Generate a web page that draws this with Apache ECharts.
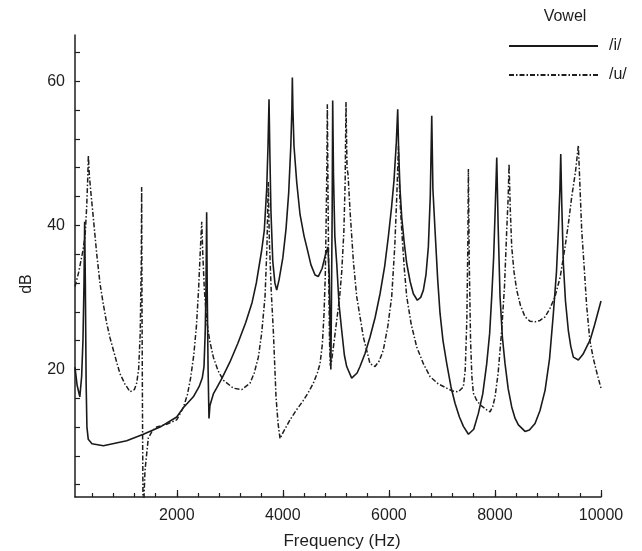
<!DOCTYPE html>
<html><head><meta charset="utf-8">
<script src="https://cdn.jsdelivr.net/npm/echarts@6/dist/echarts.min.js"></script>
<style>html,body{margin:0;padding:0;background:#fff}#c{width:642px;height:551px}</style>
</head><body><div id="c"></div>
<script>
// /i/ vowel (solid)
const freqI = [80,120,171,205,230,250,262,275,290,305,330,400,615,1055,1369,1683,1998,2123,2200,2312,2420,2480,2513,2535,2550,2563,2575,2590,2607,2625,2689,2750,2853,3000,3150,3300,3420,3500,3600,3650,3695,3720,3739,3755,3775,3810,3850,3884,3930,4000,4060,4110,4150,4170,4179,4190,4210,4261,4324,4400,4450,4530,4607,4670,4740,4800,4850,4875,4895,4905,4915,4930,4940,4955,4980,5016,5060,5110,5160,5204,5298,5400,5455,5550,5644,5740,5833,5920,5989,6050,6096,6140,6166,6185,6210,6242,6290,6336,6400,6461,6536,6600,6650,6700,6744,6780,6808,6830,6870,6920,6964,7020,7091,7170,7247,7330,7405,7500,7600,7687,7770,7845,7900,7939,7975,8002,8034,8060,8096,8140,8190,8250,8316,8380,8442,8567,8650,8756,8850,8945,9030,9102,9160,9196,9225,9241,9260,9290,9330,9384,9430,9479,9573,9660,9762,9800,9880,10000];
const dbI = [20.3,17.8,16.2,19,24,32,40.5,32,18,12,10.3,9.7,9.4,10.1,11.0,12.0,13.4,14.7,15.3,16.2,17.6,18.8,20.4,25,31,41.8,30,20,13.2,15.0,16.6,17.4,18.8,21,23.6,26.5,29.3,32,36.5,39.3,45,51,57.5,50,42,35,32,31.0,32.5,35.5,39.5,44.5,51,56,60.5,56,51,46,41.5,38.5,37,34.5,33.1,32.9,34,35.8,37,33,24,20,28,42,57.3,47,38.5,34.7,29,25.4,22,20.4,18.8,19.5,20.4,22.2,24.5,27.2,30.5,34.3,38.4,42.5,46.2,51.5,56.1,50,45,41.1,37.5,34.7,32.2,30.5,29.6,30,31.0,33.2,37.0,44,55.2,45,39.3,32.5,27.8,24,20.8,17.6,15.3,13.4,12.1,11.0,11.7,13.9,16.6,20.8,25,30.1,35.5,41.6,49.4,40,30.1,24.5,20.8,17.3,14.8,13.2,12.3,11.4,11.6,12.5,14.3,17.1,21.5,27.8,33.5,39.3,45,49.9,43,34.7,29.5,25.4,23.2,21.7,21.3,22.1,23.6,24.2,26.2,29.5];
// /u/ vowel (dash-dot)
const freqU = [80,150,230,270,300,320,332,350,380,426,490,552,615,678,740,803,866,929,1020,1117,1148,1200,1243,1280,1310,1330,1337,1343,1352,1362,1370,1385,1400,1463,1540,1620,1808,1998,2123,2200,2260,2320,2370,2410,2440,2470,2490,2520,2563,2620,2689,2780,2877,3066,3224,3381,3460,3538,3600,3664,3700,3725,3745,3780,3820,3850,3871,3910,3947,4000,4135,4250,4386,4480,4575,4650,4701,4745,4777,4800,4814,4830,4839,4850,4865,4880,4895,4920,4960,5016,5070,5110,5150,5175,5191,5210,5230,5267,5330,5393,5518,5644,5738,5820,5895,5980,6053,6110,6148,6180,6205,6242,6290,6336,6420,6525,6650,6776,6930,7091,7200,7311,7405,7440,7470,7490,7499,7515,7540,7565,7593,7650,7719,7845,7907,7960,8002,8060,8127,8180,8222,8250,8266,8290,8316,8360,8411,8480,8567,8660,8756,8850,8945,9040,9133,9230,9322,9390,9447,9520,9573,9600,9636,9680,9730,9790,9856,9930,10000];
const dbU = [31.5,33.5,36.5,38.5,42.5,46.5,49.7,47,44.5,41,36,31.9,29,26.4,24.4,22.7,21,19.4,18,16.9,16.7,17.2,18.1,20,25,35,45.3,30,15,2,0,3,6,10.5,11.5,12.0,12.4,13.0,14.7,16.5,18.8,22,26,31,36,40.5,36,31,26.8,24,21.7,19.8,18.5,17.4,17.2,18.1,19.5,21.7,25,30.1,37,46,38,31,25.4,20,16.2,12.5,10.4,11.2,13.0,14.3,15.7,16.8,18.1,19.5,20.8,23.5,27.8,33,39.3,48,56.8,46,33,24,20.5,21.2,23.5,26.8,30,33.5,39,46,57.1,48,47,42,35,30.1,24.5,20.8,20.4,21.2,22.7,26,30.1,37,43.9,51,44,39.3,34,30.1,26.3,23.1,20.8,19.0,18,17.4,17.0,16.9,17.6,20,27,38,47.8,35,24,19,16.7,15.8,15.1,14.4,14.1,14.9,16.2,19.5,25.4,31.5,39.3,44,48.5,42,37.0,33.5,31.0,28.9,27.3,26.7,26.6,26.8,27.3,28.5,30.1,32.8,37.0,40.5,43.9,47.5,51.1,46,39.3,34.5,28.8,24,21.5,19.3,17.4];
// axis ticks and labels
const xMinorTicks = [400,800,1200,1600,2000,2400,2800,3200,3600,4000,4400,4800,5200,5600,6000,6400,6800,7200,7600,8000,8400,8800,9200,9600,10000];
const xLabels = [2000,4000,6000,8000,10000];
const yTicks = [4,8,12,16,20,24,28,32,36,40,44,48,52,56,60,64];
const yLabels = [20,40,60];
const seriesNames = ['/i/', '/u/'];

const zip = (xs, ys) => xs.map((x, i) => [x, ys[i]]);
const FONT = 'Liberation Sans, Arial, sans-serif';
const INK = '#1e1e1e';
const XMIN = 80, XMAX = 10000, YMIN = 2.3, YMAX = 66.4;
const plain = v => String(Math.round(v));

const chart = echarts.init(document.getElementById('c'), null, {renderer: 'canvas'});
chart.setOption({
  backgroundColor: '#ffffff',
  animation: false,
  grid: {left: 75, right: 41, top: 35, bottom: 54, containLabel: false},
  xAxis: [{
    type: 'value', min: XMIN, max: XMAX,
    axisLine: {show: true, lineStyle: {color: INK, width: 1.5}},
    axisTick: {show: true, inside: true, length: 4, customValues: xMinorTicks, lineStyle: {color: INK, width: 1.2}},
    axisLabel: {show: true, customValues: xLabels, formatter: plain, margin: 11, color: INK, fontSize: 16, fontFamily: FONT},
    splitLine: {show: false}
  }, {
    type: 'value', min: XMIN, max: XMAX, position: 'bottom',
    axisLine: {show: false},
    axisTick: {show: true, inside: true, length: 7, customValues: xLabels, lineStyle: {color: INK, width: 1.2}},
    axisLabel: {show: false},
    splitLine: {show: false}
  }],
  yAxis: {
    type: 'value', min: YMIN, max: YMAX,
    axisLine: {show: true, lineStyle: {color: INK, width: 1.5}},
    axisTick: {show: true, inside: true, length: 5, customValues: yTicks, lineStyle: {color: INK, width: 1.2}},
    axisLabel: {show: true, customValues: yLabels, formatter: plain, margin: 10, color: INK, fontSize: 16, fontFamily: FONT},
    splitLine: {show: false}
  },
  legend: {
    data: seriesNames, orient: 'vertical', left: 508, top: 38, padding: 0,
    itemWidth: 89, itemHeight: 14, itemGap: 13,
    itemStyle: {color: 'rgba(0,0,0,0)', borderColor: 'rgba(0,0,0,0)', borderWidth: 0, opacity: 0},
    textStyle: {color: INK, fontSize: 16, fontFamily: FONT, padding: [0, 0, 0, 6]},
    selectedMode: false
  },
  graphic: [
    {type: 'text', x: 565, y: 17, style: {text: 'Vowel', fill: INK, font: '16px ' + FONT, align: 'center', verticalAlign: 'middle'}},
    {type: 'text', x: 27, y: 284, rotation: Math.PI / 2, style: {text: 'dB', fill: INK, font: '16px ' + FONT, align: 'center', verticalAlign: 'middle'}},
    {type: 'text', x: 342, y: 541, style: {text: 'Frequency (Hz)', fill: INK, font: '17px ' + FONT, align: 'center', verticalAlign: 'middle'}}
  ],
  series: [{
    name: seriesNames[0], type: 'line', xAxisIndex: 0, symbol: 'none', clip: true,
    lineStyle: {color: '#1a1a1a', width: 1.6, type: 'solid'},
    itemStyle: {color: '#1a1a1a'},
    data: zip(freqI, dbI)
  }, {
    name: seriesNames[1], type: 'line', xAxisIndex: 0, symbol: 'none', clip: true,
    lineStyle: {color: '#1e1e1e', width: 1.5, type: [5, 2, 1.5, 2]},
    itemStyle: {color: '#1e1e1e'},
    data: zip(freqU, dbU)
  }]
});
</script>
</body></html>
